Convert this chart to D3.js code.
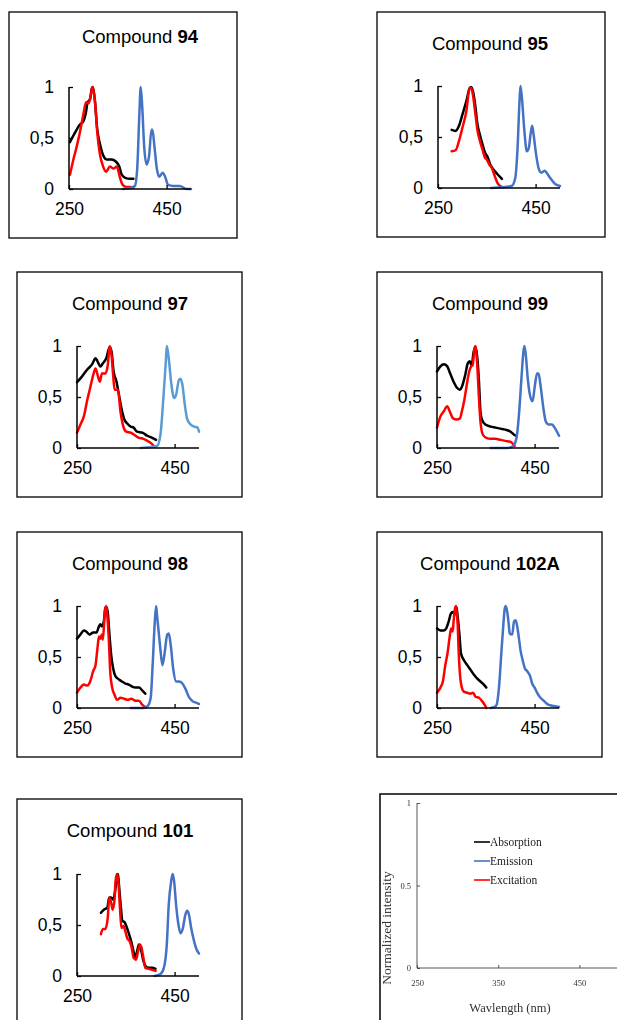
<!DOCTYPE html>
<html>
<head>
<meta charset="utf-8">
<script src="https://cdn.jsdelivr.net/npm/d3@7"></script>
<style>
  body { margin: 0; background: #fff; }
  svg { display: block; }
</style>
</head>
<body>
<svg id="chart" width="617" height="1020"></svg>
<script>
// wavelength (nm), normalized intensity
const abs94 = [[252,0.46],[262,0.55],[272,0.63],[279,0.66],[285,0.76],[288,0.85],[293,0.88],[297,0.99],[299,1],[303,0.87],[308,0.58],[313,0.45],[320,0.33],[327,0.29],[337,0.29],[346,0.27],[353,0.22],[358,0.14],[365,0.11],[375,0.10],[382,0.10]];
const exc94 = [[252,0.14],[259,0.29],[266,0.42],[272,0.55],[279,0.72],[285,0.85],[290,0.84],[294,0.9],[298,1],[303,0.87],[308,0.55],[313,0.35],[320,0.22],[326,0.17],[334,0.22],[341,0.2],[348,0.22],[354,0.12],[360,0.04],[368,0.02],[375,0.02],[382,0.01]];
const em94 = [[360,0],[375,0.01],[385,0.03],[390,0.22],[394,0.71],[397,1],[400,0.81],[404,0.42],[409,0.24],[414,0.32],[419,0.58],[421,0.58],[425,0.42],[430,0.2],[435,0.12],[442,0.16],[447,0.12],[453,0.04],[464,0.03],[477,0.03],[491,0],[500,0]];

const abs95 = [[278,0.57],[286,0.56],[293,0.61],[300,0.72],[308,0.85],[315,0.98],[318,0.99],[322,0.94],[326,0.82],[331,0.62],[336,0.52],[341,0.43],[346,0.35],[352,0.3],[357,0.23],[364,0.18],[371,0.14],[381,0.09]];
const exc95 = [[278,0.36],[286,0.37],[293,0.46],[300,0.59],[308,0.75],[315,0.98],[318,0.98],[322,0.9],[326,0.75],[331,0.56],[336,0.46],[341,0.38],[346,0.3],[350,0.28],[355,0.23],[360,0.2],[366,0.12],[373,0.04],[381,0.01]];
const em95 = [[359,0],[388,0.01],[401,0.02],[408,0.09],[413,0.39],[417,0.85],[419,1],[422,0.88],[427,0.56],[432,0.36],[436,0.39],[440,0.54],[443,0.61],[446,0.52],[451,0.33],[457,0.18],[462,0.15],[469,0.17],[474,0.14],[481,0.09],[490,0.04],[500,0.02]];

const abs97 = [[250,0.645],[260,0.7],[271,0.77],[281,0.82],[288,0.88],[292,0.85],[298,0.8],[303,0.83],[310,0.88],[317,0.99],[321,0.94],[325,0.75],[331,0.65],[336,0.52],[341,0.39],[347,0.28],[353,0.24],[360,0.21],[366,0.2],[373,0.16],[384,0.15],[394,0.12],[404,0.1],[412,0.08]];
const exc97 = [[250,0.15],[257,0.23],[264,0.31],[271,0.47],[277,0.59],[284,0.73],[288,0.78],[292,0.72],[297,0.65],[301,0.73],[308,0.73],[313,0.81],[317,1],[321,0.9],[324,0.72],[327,0.57],[334,0.57],[339,0.36],[345,0.21],[351,0.16],[360,0.15],[370,0.12],[377,0.1],[386,0.09],[394,0.07],[401,0.05],[409,0.01]];
const em97 = [[380,0],[401,0.01],[414,0.02],[421,0.13],[427,0.49],[432,0.85],[434,1],[438,0.88],[443,0.64],[449,0.49],[453,0.52],[459,0.67],[462,0.68],[466,0.62],[471,0.42],[476,0.28],[483,0.23],[490,0.21],[497,0.2],[500,0.16]];

const abs99 = [[250,0.75],[257,0.8],[264,0.82],[271,0.8],[277,0.73],[284,0.65],[291,0.59],[297,0.57],[301,0.6],[308,0.72],[313,0.83],[317,0.85],[321,0.81],[325,0.94],[329,0.99],[332,0.91],[336,0.65],[339,0.36],[342,0.28],[349,0.23],[360,0.21],[370,0.2],[380,0.19],[390,0.18],[401,0.16],[408,0.13],[412,0.12]];
const exc99 = [[250,0.2],[257,0.31],[264,0.36],[271,0.41],[276,0.36],[283,0.29],[290,0.28],[297,0.29],[301,0.36],[306,0.47],[312,0.65],[316,0.75],[320,0.8],[323,0.81],[327,0.98],[329,1],[332,0.85],[336,0.49],[339,0.26],[344,0.13],[351,0.1],[360,0.09],[370,0.09],[380,0.08],[390,0.07],[401,0.06],[409,0.02]];
const em99 = [[360,0],[394,0],[406,0.02],[413,0.1],[418,0.33],[423,0.68],[427,0.94],[429,1],[432,0.91],[436,0.68],[442,0.49],[446,0.46],[450,0.59],[455,0.73],[458,0.73],[462,0.62],[468,0.39],[473,0.26],[479,0.23],[486,0.23],[491,0.2],[497,0.15],[500,0.12]];

const abs98 = [[250,0.68],[257,0.72],[264,0.76],[269,0.75],[276,0.72],[283,0.74],[290,0.74],[295,0.8],[298,0.82],[301,0.8],[305,0.85],[308,0.98],[310,0.99],[313,0.94],[316,0.75],[320,0.52],[324,0.39],[329,0.31],[336,0.28],[342,0.26],[349,0.24],[356,0.23],[363,0.21],[370,0.2],[377,0.2],[384,0.17],[390,0.14]];
const exc98 = [[250,0.15],[257,0.2],[264,0.23],[271,0.22],[277,0.26],[283,0.36],[288,0.42],[292,0.59],[295,0.7],[298,0.68],[301,0.72],[303,0.67],[307,0.94],[310,1],[312,0.91],[316,0.59],[318,0.36],[322,0.2],[327,0.13],[332,0.08],[339,0.1],[347,0.09],[354,0.08],[361,0.09],[370,0.07],[377,0.07],[384,0.03],[390,0.01]];
const em98 = [[360,0],[387,0],[395,0.02],[401,0.1],[405,0.42],[409,0.81],[412,1],[414,0.91],[420,0.62],[425,0.42],[429,0.52],[435,0.72],[438,0.73],[442,0.62],[447,0.39],[453,0.26],[459,0.26],[466,0.24],[473,0.18],[479,0.11],[486,0.07],[495,0.05],[500,0.04]];

const abs102A = [[250,0.78],[257,0.76],[264,0.76],[269,0.78],[274,0.85],[279,0.93],[283,0.94],[286,0.91],[288,0.98],[290,0.99],[292,0.91],[296,0.72],[299,0.54],[305,0.47],[312,0.42],[318,0.38],[325,0.33],[332,0.29],[339,0.26],[346,0.23],[351,0.2]];
const exc102A = [[250,0.15],[257,0.2],[262,0.26],[267,0.42],[272,0.55],[276,0.7],[279,0.78],[282,0.75],[284,0.85],[287,0.98],[289,1],[292,0.85],[295,0.49],[298,0.28],[301,0.2],[305,0.16],[312,0.15],[318,0.14],[324,0.15],[329,0.11],[336,0.1],[342,0.07],[349,0.02],[351,0]];
const em102A = [[360,0],[368,0.01],[372,0.03],[377,0.2],[382,0.55],[386,0.82],[389,0.98],[391,1],[394,0.94],[397,0.82],[399,0.73],[404,0.72],[408,0.85],[411,0.86],[414,0.81],[418,0.68],[421,0.57],[426,0.46],[430,0.39],[435,0.36],[441,0.31],[445,0.24],[450,0.2],[455,0.15],[462,0.1],[469,0.07],[479,0.03],[490,0.02],[500,0.01]];

const abs101 = [[299,0.62],[305,0.65],[312,0.67],[316,0.77],[320,0.77],[324,0.75],[328,0.83],[331,0.95],[334,1],[336,0.89],[340,0.67],[343,0.54],[347,0.53],[351,0.49],[356,0.42],[361,0.34],[365,0.26],[369,0.18],[373,0.24],[377,0.31],[382,0.24],[386,0.15],[390,0.1],[397,0.08],[404,0.08],[411,0.07]];
const exc101 = [[299,0.41],[303,0.46],[308,0.46],[313,0.57],[316,0.77],[320,0.72],[323,0.65],[327,0.75],[329,0.93],[332,1],[335,0.91],[338,0.67],[341,0.47],[345,0.49],[349,0.44],[353,0.37],[358,0.34],[362,0.28],[366,0.18],[371,0.16],[375,0.24],[379,0.31],[382,0.28],[386,0.18],[390,0.08],[397,0.07],[404,0.06],[411,0.05]];
const em101 = [[409,0],[421,0.02],[428,0.08],[434,0.31],[438,0.7],[443,0.93],[446,1],[449,0.93],[453,0.7],[458,0.5],[462,0.42],[467,0.47],[472,0.6],[476,0.64],[479,0.61],[484,0.47],[490,0.34],[495,0.26],[500,0.22]];

const compounds = ['94', '95', '97', '99', '98', '102A', '101'];
const xTicks = [250, 450];
const yTicks = [0, 0.5, 1];
const yTickLabels = ['0', '0,5', '1'];
const legendNames = ['Absorption', 'Emission', 'Excitation'];
const legendColors = ['#000000', '#4472C4', '#FF0000'];
const legendYTicks = [0, 0.5, 1];
const legendXTicks = [250, 350, 450];

const series = {
  '94': [abs94, exc94, em94],
  '95': [abs95, exc95, em95],
  '97': [abs97, exc97, em97],
  '99': [abs99, exc99, em99],
  '98': [abs98, exc98, em98],
  '102A': [abs102A, exc102A, em102A],
  '101': [abs101, exc101, em101]
};

// panel placement: frame box, plot area origin, title position
const layout = {
  '94':   { box: [9, 12, 228, 226],   ax: 69,  top: 87,  titleX: 140, titleY: 43 },
  '95':   { box: [377, 12, 228, 225], ax: 438, top: 86,  titleX: 490, titleY: 50 },
  '97':   { box: [17, 272, 225, 225], ax: 77,  top: 346, titleX: 130, titleY: 310 },
  '99':   { box: [377, 272, 225, 225], ax: 437, top: 346, titleX: 490, titleY: 310 },
  '98':   { box: [17, 532, 225, 225], ax: 77,  top: 606, titleX: 130, titleY: 570 },
  '102A': { box: [377, 532, 225, 225], ax: 437, top: 606, titleX: 490, titleY: 570 },
  '101':  { box: [17, 799, 225, 240], ax: 77,  top: 874, titleX: 130, titleY: 837 }
};

const plotW = 122;
const plotH = 102;
const sans = '"Liberation Sans", Arial, sans-serif';
const serif = '"Liberation Serif", "Times New Roman", serif';

const svg = d3.select('#chart');

const x = d3.scaleLinear().domain([250, 500]).range([0, plotW]);
const y = d3.scaleLinear().domain([0, 1]).range([plotH, 0]);
const line = d3.line()
  .x(d => x(d[0]))
  .y(d => y(d[1]))
  .curve(d3.curveMonotoneX);

compounds.forEach(c => {
  const L = layout[c];
  svg.append('rect')
    .attr('x', L.box[0]).attr('y', L.box[1])
    .attr('width', L.box[2]).attr('height', L.box[3])
    .attr('fill', '#fff')
    .attr('stroke', '#000')
    .attr('stroke-width', 1.3);

  const title = svg.append('text')
    .attr('x', L.titleX).attr('y', L.titleY)
    .attr('text-anchor', 'middle')
    .style('font-family', sans)
    .style('font-size', '18.5px')
    .text('Compound ');
  title.append('tspan').style('font-weight', 'bold').text(c);

  const g = svg.append('g')
    .attr('transform', `translate(${L.ax},${L.top})`);

  const emColor = c === '97' ? '#5B9BD5' : '#4472C4';
  const [abs, exc, em] = series[c];
  [[abs, '#000000'], [exc, '#FF0000'], [em, emColor]].forEach(([data, color]) => {
    g.append('path')
      .datum(data)
      .attr('d', line)
      .attr('fill', 'none')
      .attr('stroke', color)
      .attr('stroke-width', 2.5)
      .attr('stroke-linejoin', 'round')
      .attr('stroke-linecap', 'round');
  });

  const yAxis = d3.axisLeft(y)
    .tickValues(yTicks)
    .tickSize(-4)
    .tickPadding(15)
    .tickFormat((d, i) => yTickLabels[i]);
  const ya = g.append('g').call(yAxis);
  ya.select('.domain').attr('d', `M0,${plotH}V0`).attr('stroke-width', 1.5);

  const xAxis = d3.axisBottom(x)
    .tickValues(xTicks)
    .tickSize(-4)
    .tickPadding(14)
    .tickFormat(d3.format('d'));
  const xa = g.append('g')
    .attr('transform', `translate(0,${plotH})`)
    .call(xAxis);
  xa.select('.domain').attr('d', `M0,0H${plotW}`).attr('stroke-width', 1.5);

  [ya, xa].forEach(a => {
    a.selectAll('text')
      .style('font-family', sans)
      .style('font-size', '17.5px')
      .attr('fill', '#000');
    a.selectAll('line').attr('stroke-width', 1.3);
  });
});

// legend panel (blurry scan in the source)
svg.append('defs').append('filter')
  .attr('id', 'soft')
  .append('feGaussianBlur')
  .attr('stdDeviation', 0.45);

const lg = svg.append('g').attr('filter', 'url(#soft)');
lg.append('rect')
  .attr('x', 380).attr('y', 794)
  .attr('width', 260).attr('height', 240)
  .attr('fill', '#fff')
  .attr('stroke', '#111')
  .attr('stroke-width', 1.6);

const lx = d3.scaleLinear().domain([250, 500]).range([0, 203]);
const ly = d3.scaleLinear().domain([0, 1]).range([165, 0]);
const lp = lg.append('g').attr('transform', 'translate(417,803)');

const lyAxis = lp.append('g').call(d3.axisLeft(ly)
  .tickValues(legendYTicks)
  .tickSize(-3)
  .tickPadding(6)
  .tickFormat(d3.format('')));
const lxAxis = lp.append('g')
  .attr('transform', 'translate(0,165)')
  .call(d3.axisBottom(lx)
    .tickValues(legendXTicks)
    .tickSize(-3)
    .tickPadding(12)
    .tickFormat(d3.format('d')));
lyAxis.select('.domain').attr('d', 'M0,165V0');
lxAxis.select('.domain').attr('d', 'M0,0H210');
[lyAxis, lxAxis].forEach(a => {
  a.selectAll('text')
    .style('font-family', serif)
    .style('font-size', '8.5px')
    .attr('fill', '#333');
  a.selectAll('line, path').attr('stroke', '#444').attr('stroke-width', 0.9);
});

lg.append('text')
  .attr('transform', 'translate(391,928) rotate(-90)')
  .attr('text-anchor', 'middle')
  .style('font-family', serif)
  .style('font-size', '13.5px')
  .attr('fill', '#333')
  .text('Normalized intensity');

lg.append('text')
  .attr('x', 510).attr('y', 1012)
  .attr('text-anchor', 'middle')
  .style('font-family', serif)
  .style('font-size', '12.5px')
  .attr('fill', '#333')
  .text('Wavlength (nm)');

legendNames.forEach((name, i) => {
  const yy = 842 + i * 19;
  lg.append('line')
    .attr('x1', 474).attr('x2', 490)
    .attr('y1', yy).attr('y2', yy)
    .attr('stroke', legendColors[i])
    .attr('stroke-width', 1.6);
  lg.append('text')
    .attr('x', 490).attr('y', yy + 4)
    .style('font-family', serif)
    .style('font-size', '11.5px')
    .attr('fill', '#222')
    .text(name);
});
</script>
</body>
</html>
